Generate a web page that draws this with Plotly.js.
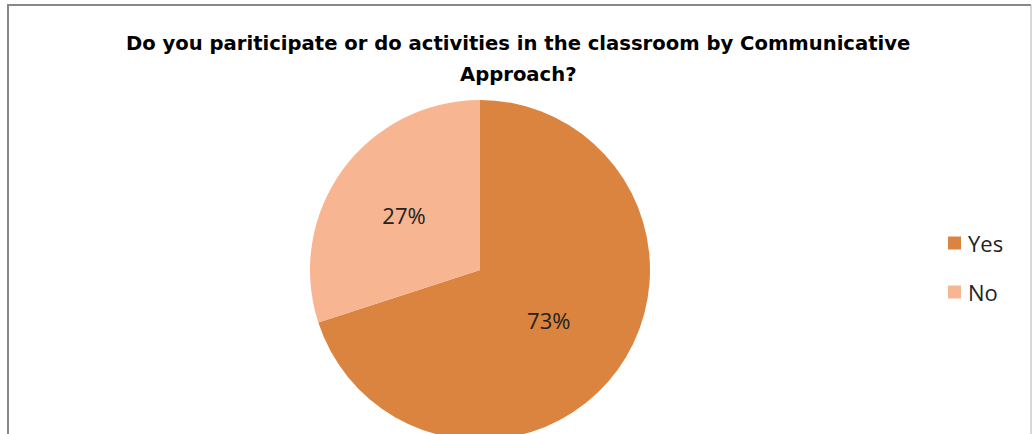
<!DOCTYPE html>
<html>
<head>
<meta charset="utf-8">
<script src="https://cdn.plot.ly/plotly-3.0.1.min.js"></script>
<style>
html,body{margin:0;padding:0;overflow:hidden;background:#fff;}
#chart{width:1032px;height:450px;}
</style>
</head>
<body>
<div id="chart"></div>
<script>
var categories = ["Yes", "No"];
var sliceValues = [70, 30];
var dataLabels = ["73%", "27%"];
var colors = ["#DB843F", "#F8B592"];
var titleLines = ["Do you pariticipate or do activities in the classroom by Communicative", "Approach?"];

var W = 1032, H = 450;
var cx = 480, cy = 270, r = 170;

var trace = {
  type: "pie",
  labels: categories,
  values: sliceValues,
  text: dataLabels,
  marker: {colors: colors, line: {width: 0}},
  sort: false,
  direction: "clockwise",
  rotation: 0,
  textinfo: "text",
  textposition: "inside",
  insidetextorientation: "horizontal",
  textfont: {family: "Open Sans", size: 22, color: "#222222"},
  showlegend: false,
  hoverinfo: "none",
  domain: {x: [(cx - r) / W, (cx + r) / W], y: [(H - cy - r) / H, (H - cy + r) / H]}
};

var shapes = [
  {type: "line", xref: "paper", yref: "paper", x0: 8 / W, x1: 8 / W, y0: 0, y1: (H - 5) / H, line: {color: "#888888", width: 2}},
  {type: "line", xref: "paper", yref: "paper", x0: 7 / W, x1: 1031 / W, y0: (H - 5) / H, y1: (H - 5) / H, line: {color: "#888888", width: 2}},
  {type: "line", xref: "paper", yref: "paper", x0: 1031 / W, x1: 1031 / W, y0: 0, y1: (H - 5) / H, line: {color: "#b0b0b0", width: 1}}
];
var annotations = [];
for (var t = 0; t < titleLines.length; t++) {
  annotations.push({xref: "paper", yref: "paper", x: 518 / W, y: (H - 44 - t * 31) / H,
    xanchor: "center", yanchor: "middle",
    text: "<b>" + titleLines[t] + "</b>", showarrow: false,
    font: {family: "DejaVu Sans", size: 19.6, color: "#000000"}});
}
for (var i = 0; i < categories.length; i++) {
  var ly = 243 + i * 49;
  shapes.push({type: "rect", xref: "paper", yref: "paper",
    x0: 948 / W, x1: 961 / W, y0: (H - ly - 6.5) / H, y1: (H - ly + 6.5) / H,
    fillcolor: colors[i], line: {width: 0}});
  annotations.push({xref: "paper", yref: "paper", x: 966 / W, y: (H - ly) / H,
    xanchor: "left", yanchor: "middle", text: categories[i], showarrow: false,
    font: {family: "Open Sans", size: 22, color: "#222222"}});
}

var layout = {
  width: W, height: H,
  margin: {l: 0, r: 0, t: 0, b: 0},
  paper_bgcolor: "#ffffff",
  showlegend: false,
  shapes: shapes,
  annotations: annotations
};

Plotly.newPlot("chart", [trace], layout, {displayModeBar: false, staticPlot: true});
</script>
</body>
</html>
